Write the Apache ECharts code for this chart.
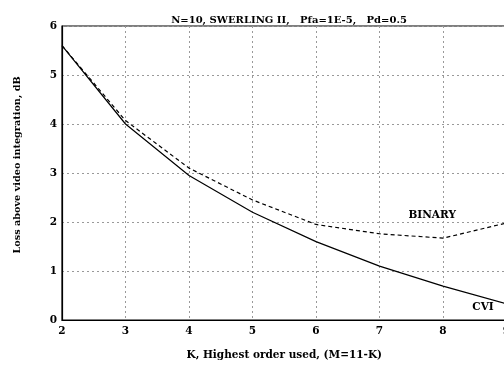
<!DOCTYPE html>
<html><head><meta charset="utf-8">
<script src="https://cdn.jsdelivr.net/npm/echarts@6/dist/echarts.min.js"></script>
<style>html,body{margin:0;padding:0;background:#fff}#c{width:504px;height:368px}</style>
</head><body><div id="c"></div>
<script>
const kValues = [2, 3, 4, 5, 6, 7, 8, 9];
const cviLoss = [5.6, 4.0, 2.95, 2.2, 1.6, 1.1, 0.69, 0.33];
const binaryLoss = [5.6, 4.07, 3.1, 2.45, 1.95, 1.76, 1.67, 1.98];
const yTicks = [0, 1, 2, 3, 4, 5, 6];
const titleText = 'N=10, SWERLING II,   Pfa=1E-5,   Pd=0.5';
const xName = 'K, Highest order used, (M=11-K)';
const yName = 'Loss above video integration, dB';
const binaryLabelPos = [7.83, 2.14];
const cviLabelPos = [8.63, 0.25];

const FONT = 'DejaVu Serif';
const txt = {fontFamily: FONT, fontWeight: 'bold', fontSize: 10.5, color: '#000'};
const chart = echarts.init(document.getElementById('c'), null, {renderer: 'canvas'});
const gridLine = {show: true, lineStyle: {color: '#999', type: [2, 3], width: 1}};
chart.setOption({
  animation: false,
  backgroundColor: '#fff',
  title: {text: titleText, left: 284, top: 10, textAlign: 'center',
    textStyle: Object.assign({}, txt, {fontSize: 10})},
  grid: {left: 62, top: 26, height: 294, width: 444.5, outerBoundsMode: 'none', containLabel: false,
    show: true, borderColor: '#000', borderWidth: 1.2, backgroundColor: 'transparent'},
  xAxis: {type: 'value', min: 2, max: 9, interval: 1,
    name: xName, nameLocation: 'middle', nameGap: 30, nameTextStyle: txt,
    axisLine: {show: true, lineStyle: {color: '#000', width: 1.2}},
    axisTick: {show: false}, axisLabel: Object.assign({margin: 6}, txt),
    splitLine: gridLine},
  yAxis: {type: 'value', min: yTicks[0], max: yTicks[yTicks.length - 1], interval: 1,
    name: yName, nameLocation: 'middle', nameGap: 40,
    nameTextStyle: Object.assign({}, txt, {fontSize: 9.7, padding: [0, 0, 0, 16]}),
    axisLine: {show: true, lineStyle: {color: '#000', width: 1.2}},
    axisTick: {show: false}, axisLabel: Object.assign({margin: 5}, txt),
    splitLine: gridLine},
  series: [
    {name: 'CVI', type: 'line', data: kValues.map((k, i) => [k, cviLoss[i]]), symbol: 'none',
      lineStyle: {color: '#000', width: 1.2, type: 'solid'},
      markPoint: {symbol: 'circle', symbolSize: 0, data: [{coord: cviLabelPos, value: 'CVI'}],
        label: Object.assign({show: true, formatter: 'CVI', position: 'inside'}, txt)}},
    {name: 'BINARY', type: 'line', data: kValues.map((k, i) => [k, binaryLoss[i]]), symbol: 'none',
      lineStyle: {color: '#000', width: 1.2, type: [4, 3]},
      markPoint: {symbol: 'circle', symbolSize: 0, data: [{coord: binaryLabelPos, value: 'BINARY'}],
        label: Object.assign({show: true, formatter: 'BINARY', position: 'inside'}, txt)}}
  ]
});
</script></body></html>
